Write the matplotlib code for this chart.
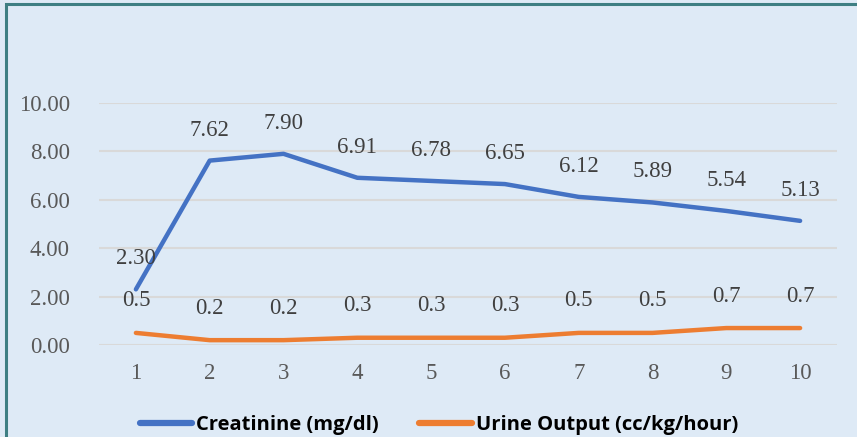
import matplotlib
matplotlib.use("Agg")
import matplotlib.pyplot as plt
from matplotlib.patches import Rectangle
from matplotlib.lines import Line2D

categories = ["1", "2", "3", "4", "5", "6", "7", "8", "9", "10"]
creatinine = [2.30, 7.62, 7.90, 6.91, 6.78, 6.65, 6.12, 5.89, 5.54, 5.13]
urine = [0.5, 0.2, 0.2, 0.3, 0.3, 0.3, 0.5, 0.5, 0.7, 0.7]
yticks = [0, 2, 4, 6, 8, 10]
series_names = ["Creatinine (mg/dl)", "Urine Output (cc/kg/hour)"]

BG = "#DEEAF6"
BLUE = "#4472C4"
ORANGE = "#ED7D31"
TXT = "#595959"
SERIF = ["Liberation Serif", "DejaVu Serif"]

fig = plt.figure(figsize=(8.57, 4.37), dpi=100)
fig.patch.set_facecolor(BG)
# border (teal, top and left visible)
fig.add_artist(Rectangle((6/857, -0.1), 1.2, 1 - 4/437 + 0.1, transform=fig.transFigure,
                         facecolor="none", edgecolor="#3E7F83", linewidth=2.2))

ax = fig.add_axes([99/857, 1 - 345/437, 738/857, 242/437])
ax.set_facecolor("none")
x = list(range(1, len(categories) + 1))
ax.set_xlim(0.5, len(categories) + 0.5)
ax.set_ylim(0, 10)
for s in ax.spines.values():
    s.set_visible(False)
ax.set_yticks(yticks)
ax.set_yticklabels([f"{v:.2f}" for v in yticks], fontfamily=SERIF, fontsize=16.5, color=TXT)
ax.set_xticks(x)
ax.set_xticklabels(categories, fontfamily=SERIF, fontsize=16.5, color=TXT)
ax.tick_params(axis="both", length=0)
ax.tick_params(axis="y", pad=21)
ax.tick_params(axis="x", pad=13)
ax.grid(axis="y", color="#D9D9D9", linewidth=1.5)
ax.set_axisbelow(True)

ax.plot(x, creatinine, color=BLUE, linewidth=3.2, solid_capstyle="round", zorder=3)
ax.plot(x, urine, color=ORANGE, linewidth=3.2, solid_capstyle="round", zorder=3)

for xi, v in zip(x, creatinine):
    ax.annotate(f"{v:.2f}", (xi, v), xytext=(0, 22), textcoords="offset points",
                ha="center", va="center", fontfamily=SERIF, fontsize=16.5, color="#404040",
                annotation_clip=False)
for xi, v in zip(x, urine):
    ax.annotate(f"{v:.1f}", (xi, v), xytext=(0, 23), textcoords="offset points",
                ha="center", va="center", fontfamily=SERIF, fontsize=16.5, color="#404040",
                annotation_clip=False)

handles = [Line2D([], [], color=BLUE, linewidth=4.5, solid_capstyle="round"),
           Line2D([], [], color=ORANGE, linewidth=4.5, solid_capstyle="round")]
leg = fig.legend(handles, series_names, loc="center", bbox_to_anchor=(439/857, 1 - 425/437),
                 ncol=2, frameon=False, handlelength=2.6, handletextpad=0.2, columnspacing=2.0,
                 borderpad=0, borderaxespad=0,
                 prop={"family": ["Open Sans", "DejaVu Sans"], "weight": "bold", "size": 14.5})
for t in leg.get_texts():
    t.set_color("#000000")

fig.savefig("out.png", dpi=100, facecolor=BG)
